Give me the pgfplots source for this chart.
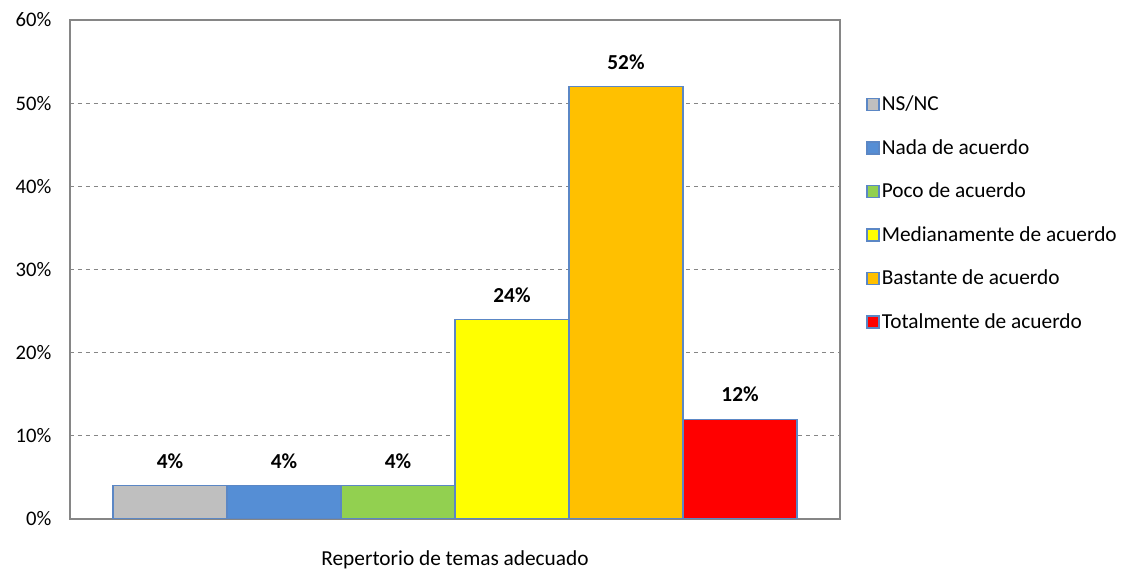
\documentclass[border=0pt]{standalone}
\usepackage{fontspec}
\setmainfont{Carlito}
\usepackage{pgfplots}
\pgfplotsset{compat=1.18}
\definecolor{cgray}{HTML}{BFBFBF}
\definecolor{cblue}{HTML}{558ED5}
\definecolor{cgreen}{HTML}{92D050}
\definecolor{cyellow}{HTML}{FFFF00}
\definecolor{corange}{HTML}{FFC000}
\definecolor{cred}{HTML}{FF0000}
\definecolor{cedge}{HTML}{5B87C5}
\definecolor{cframe}{HTML}{868686}
\begin{document}
\begin{tikzpicture}
\begin{axis}[
  scale only axis,
  width=577.5pt, height=374.25pt,
  xmin=0.123, xmax=6.877,
  ymin=0, ymax=60,
  ytick={0,10,20,30,40,50,60},
  yticklabel={\pgfmathprintnumber{\tick}\%},
  /pgf/number format/assume math mode=true,
  xtick=\empty,
  major tick length=0pt,
  ymajorgrids,
  grid style={dashed, cframe, line width=0.8pt},
  axis line style={cframe, line width=1.2pt},
  tick label style={font=\fontsize{15.5}{18}\selectfont},
  yticklabel style={xshift=-10.5pt},
  xlabel={Repertorio de temas adecuado},
  xlabel style={font=\fontsize{16}{18}\selectfont, at={(axis description cs:0.5,0)}, anchor=center, yshift=-30.5pt},
  ybar, bar width=1, bar shift=0pt,
  nodes near coords={\textbf{\pgfmathprintnumber{\pgfplotspointmeta}\%}},
  every node near coord/.append style={font=\fontsize{16}{18}\selectfont, yshift=9pt},
  legend style={at={(1.034,0.852)}, anchor=north west, draw=none, fill=none,
    font=\fontsize{16}{18}\selectfont, row sep=17pt, inner sep=0pt,
    nodes={inner sep=1.5pt}},
  legend cell align=left,
  legend image code/.code={\draw[#1, line width=1pt] (0pt,-4.5pt) rectangle (9pt,4.5pt);},
  every axis plot/.append style={draw=cedge, line width=1pt},
]
\addplot[fill=cgray] coordinates {(1,4)};
\addlegendentry{NS/NC}
\addplot[fill=cblue] coordinates {(2,4)};
\addlegendentry{Nada de acuerdo}
\addplot[fill=cgreen] coordinates {(3,4)};
\addlegendentry{Poco de acuerdo}
\addplot[fill=cyellow] coordinates {(4,24)};
\addlegendentry{Medianamente de acuerdo}
\addplot[fill=corange] coordinates {(5,52)};
\addlegendentry{Bastante de acuerdo}
\addplot[fill=cred] coordinates {(6,12)};
\addlegendentry{Totalmente de acuerdo}
\end{axis}
\path (current axis.south west) ++(-52.5pt,-36.75pt) coordinate (bbsw);
\path (current axis.south west) ++(794.25pt,389.25pt) coordinate (bbne);
\useasboundingbox (bbsw) rectangle (bbne);
\end{tikzpicture}
\end{document}
